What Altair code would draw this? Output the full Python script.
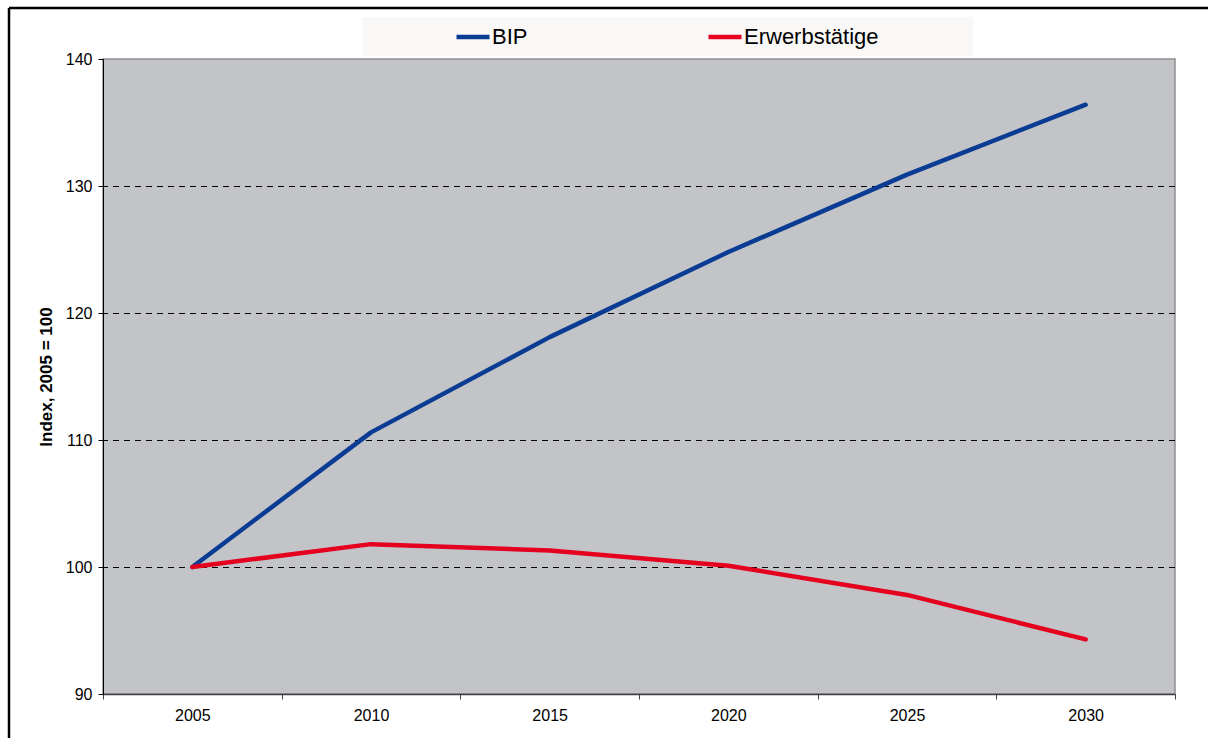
import altair as alt
import pandas as pd

years = ["2005", "2010", "2015", "2020", "2025", "2030"]
bip = [100.0, 110.6, 118.1, 124.8, 130.9, 136.4]
erwerb = [100.0, 101.8, 101.3, 100.1, 97.8, 94.3]
series_names = ["BIP", "Erwerbstätige"]
series_colors = ["#0B3C94", "#E5001F"]
grid_values = [100, 110, 120, 130]
y_tick_values = [90, 100, 110, 120, 130, 140]

W, H = 1072, 635
LEFT, TOP = 103, 59
FONT = "Liberation Sans"

df = pd.DataFrame({
    "Jahr": years * 2,
    "Index": bip + erwerb,
    "Reihe": [series_names[0]] * len(years) + [series_names[1]] * len(years),
})

yscale = alt.Scale(domain=[90, 140], nice=False, zero=False)
xscale = alt.Scale(type="band", paddingInner=0, paddingOuter=0)

y_axis = alt.Axis(title="Index, 2005 = 100", values=y_tick_values, grid=False,
                  tickSize=5, tickColor="black", domainColor="black",
                  labelFont=FONT, labelFontSize=16, labelColor="black",
                  labelPadding=6, titleFont=FONT, titleFontSize=17,
                  titleFontWeight="bold", titleColor="black", titlePadding=10)

one = pd.DataFrame({"a": [0]})

# legend background box
legend_bg = alt.Chart(one).mark_rect(fill="#F9F8F7").encode(
    x=alt.value(362 - LEFT), x2=alt.value(973 - LEFT),
    y=alt.value(17 - TOP), y2=alt.value(56 - TOP),
)

# outer frame (top and left black lines)
frame_top = alt.Chart(one).mark_rule(color="black", strokeWidth=2.5).encode(
    x=alt.value(9 - LEFT), x2=alt.value(1208 - LEFT + 5), y=alt.value(8 - TOP)
)
frame_left = alt.Chart(one).mark_rule(color="black", strokeWidth=2.5).encode(
    x=alt.value(9 - LEFT), y=alt.value(8 - TOP), y2=alt.value(738 - TOP + 5)
)

grid = alt.Chart(pd.DataFrame({"Index": grid_values})).mark_rule(
    color="black", strokeWidth=1, strokeDash=[6, 5], yOffset=0.5
).encode(y=alt.Y("Index:Q", scale=yscale, axis=y_axis))

lines = alt.Chart(df).mark_line(strokeWidth=4.5, strokeCap="round", strokeJoin="round").encode(
    x=alt.X("Jahr:O", scale=xscale, bandPosition=0.5, sort=years,
            axis=alt.Axis(title=None, labelAngle=0, tickBand="extent", tickSize=5,
                          tickColor="#404040", domainColor="#404040", domainWidth=1.5,
                          labelFont=FONT, labelFontSize=16, labelColor="black",
                          labelPadding=8)),
    y=alt.Y("Index:Q", scale=yscale, axis=y_axis),
    color=alt.Color("Reihe:N", sort=series_names,
                    scale=alt.Scale(domain=series_names, range=series_colors),
                    legend=alt.Legend(title=None, orient="none", direction="horizontal",
                                      legendX=454 - LEFT, legendY=18 - TOP,
                                      symbolType="stroke", symbolSize=1089,
                                      symbolStrokeWidth=4.5, labelFont=FONT,
                                      labelFontSize=22, labelColor="black",
                                      labelOffset=0, columnPadding=171, padding=0)),
)

chart = alt.layer(legend_bg, frame_top, frame_left, grid, lines).properties(
    width=W, height=H,
    padding={"left": LEFT, "top": TOP, "right": 1208 - LEFT - W, "bottom": 738 - TOP - H},
    autosize=alt.AutoSizeParams(type="none"),
    background="white",
).configure_view(fill="#C3C4C8", stroke="#8E8E8E", strokeWidth=1.5)

chart.save("out.html", embed_options={"renderer": "svg", "actions": False})
